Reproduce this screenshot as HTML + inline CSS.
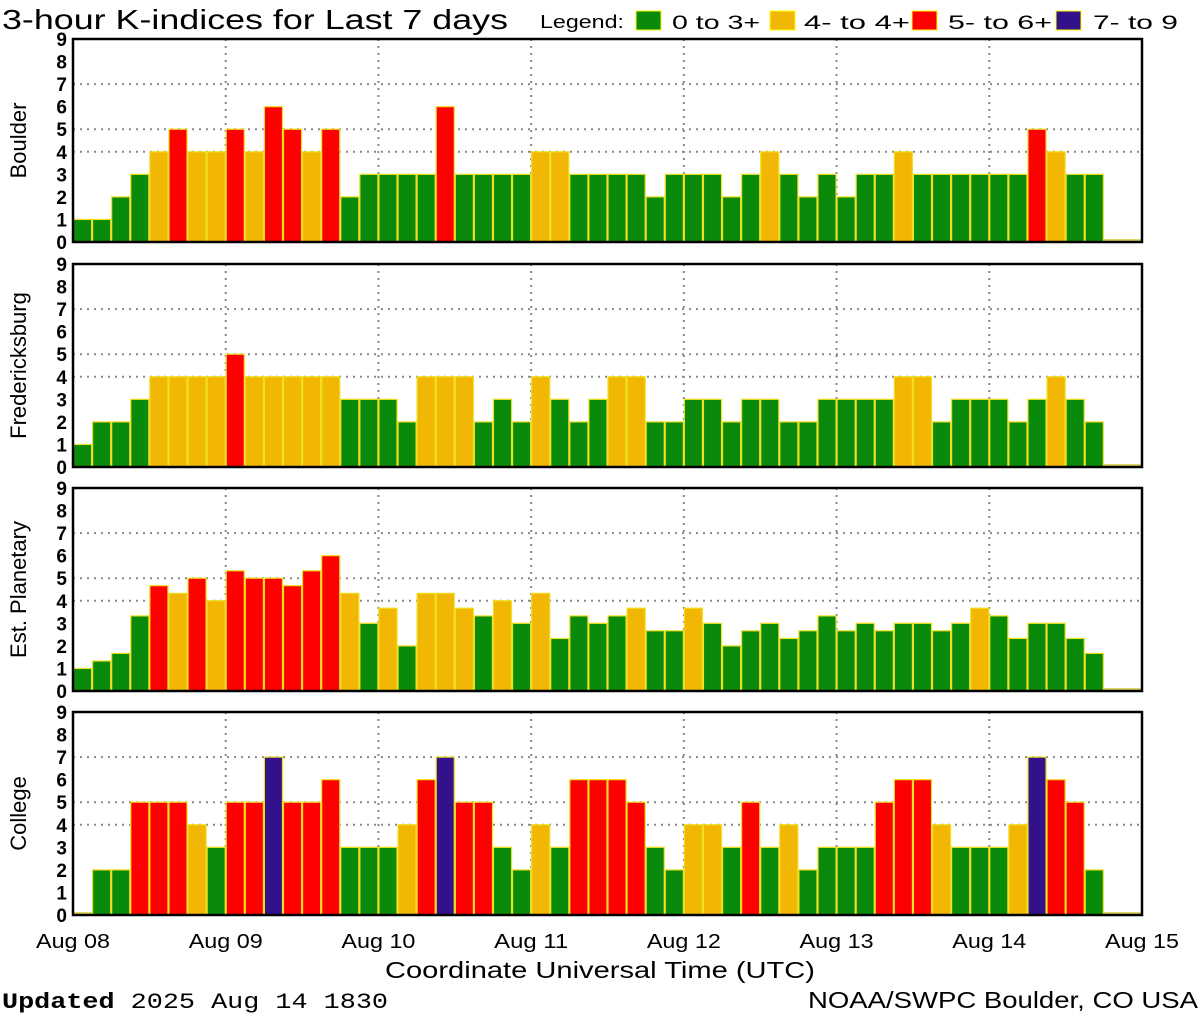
<!DOCTYPE html>
<html><head><meta charset="utf-8"><style>
html,body{margin:0;padding:0;background:#fff;}
svg{display:block;font-family:"Liberation Sans",sans-serif;}
</style></head><body>
<svg id="chart" width="1200" height="1020" viewBox="0 0 1200 1020" xmlns="http://www.w3.org/2000/svg">
<text x="2" y="29" font-size="28" fill="#000" textLength="506" lengthAdjust="spacingAndGlyphs">3-hour K-indices for Last 7 days</text>
<g>
<text x="540" y="28" font-size="18" textLength="84" lengthAdjust="spacingAndGlyphs">Legend:</text>
<rect x="636" y="11" width="25" height="19" fill="#0a8a0a" stroke="#ff0"/>
<text x="672" y="29" font-size="19" textLength="88" lengthAdjust="spacingAndGlyphs">0 to 3+</text>
<rect x="770" y="11" width="25" height="19" fill="#f2b705" stroke="#ff0"/>
<text x="804" y="29" font-size="19" textLength="106" lengthAdjust="spacingAndGlyphs">4- to 4+</text>
<rect x="912" y="11" width="25" height="19" fill="#ff0000" stroke="#ff0"/>
<text x="948" y="29" font-size="19" textLength="104" lengthAdjust="spacingAndGlyphs">5- to 6+</text>
<rect x="1056" y="11" width="25" height="19" fill="#33118a" stroke="#ff0"/>
<text x="1093" y="29" font-size="19" textLength="85" lengthAdjust="spacingAndGlyphs">7- to 9</text>
</g>
<g id="panels"></g>
<g id="xaxis"></g>
<text x="385" y="978" font-size="23" textLength="430" lengthAdjust="spacingAndGlyphs">Coordinate Universal Time (UTC)</text>
<text x="2" y="1008" font-size="22" font-family="Liberation Mono, monospace" textLength="386" lengthAdjust="spacingAndGlyphs"><tspan font-weight="bold">Updated</tspan> 2025 Aug 14 1830</text>
<text x="808" y="1008" font-size="23" textLength="390" lengthAdjust="spacingAndGlyphs">NOAA/SWPC Boulder, CO USA</text>
</svg>
<script>
const stations = ["Boulder","Fredericksburg","Est. Planetary","College"];
const dayLabels = ["Aug 08","Aug 09","Aug 10","Aug 11","Aug 12","Aug 13","Aug 14","Aug 15"];
const yTicks = [0,1,2,3,4,5,6,7,8,9];
const gridLevels = [4,5,7];
const boulder = [1,1,2,3,4,5,4,4, 5,4,6,5,4,5,2,3, 3,3,3,6,3,3,3,3, 4,4,3,3,3,3,2,3, 3,3,2,3,4,3,2,3, 2,3,3,4,3,3,3,3, 3,3,5,4,3,3,null,null];
const fredericksburg = [1,2,2,3,4,4,4,4, 5,4,4,4,4,4,3,3, 3,2,4,4,4,2,3,2, 4,3,2,3,4,4,2,2, 3,3,2,3,3,2,2,3, 3,3,3,4,4,2,3,3, 3,2,3,4,3,2,null,null];
const planetary = [1,1.33,1.67,3.33,4.67,4.33,5,4, 5.33,5,5,4.67,5.33,6,4.33,3, 3.67,2,4.33,4.33,3.67,3.33,4,3, 4.33,2.33,3.33,3,3.33,3.67,2.67,2.67, 3.67,3,2,2.67,3,2.33,2.67,3.33, 2.67,3,2.67,3,3,2.67,3,3.67, 3.33,2.33,3,3,2.33,1.67,null,null];
const college = [0,2,2,5,5,5,4,3, 5,5,7,5,5,6,3,3, 3,4,6,7,5,5,3,2, 4,3,6,6,6,5,3,2, 4,4,3,5,3,4,2,3, 3,3,5,6,6,4,3,3, 3,4,7,6,5,2,null,null];
const series = [boulder,fredericksburg,planetary,college];

const NS="http://www.w3.org/2000/svg";
const X0=73, X1=1142, panelTops=[39,264,488,712], PH=203;
const nBars=56;
const xScale = i => X0 + i*(X1-X0)/nBars;
const yScale = (top,v) => top+PH - v*(PH/9);
function mk(tag,attrs,parent){const e=document.createElementNS(NS,tag);for(const k in attrs)e.setAttribute(k,attrs[k]);parent.appendChild(e);return e;}
function color(v){ if(v>=6.5) return "#33118a"; if(v>=4.5) return "#ff0000"; if(v>=3.5) return "#f2b705"; return "#0a8a0a"; }
const panels=document.getElementById("panels");
stations.forEach((name,p)=>{
  const top=panelTops[p], bot=top+PH;
  const g=mk("g",{},panels);
  
  
  gridLevels.forEach(l=>{
    const ln=mk("line",{x1:X0,x2:X1,y1:yScale(top,l),y2:yScale(top,l),stroke:"#888","stroke-width":2,"stroke-dasharray":"2 5"},g);
    
    
  });
  for(let d=1;d<7;d++){
    const x=X0+d*(X1-X0)/7;
    const ln=mk("line",{x1:x,x2:x,y1:top,y2:bot,stroke:"#888","stroke-width":2,"stroke-dasharray":"2 5"},g);
    
    
  }
  series[p].forEach((v,i)=>{
    const x=xScale(i), w=(X1-X0)/nBars;
    let r;
    if(v===null || v===0){
      r=mk("rect",{x:x,y:bot-3,width:w,height:3,fill:"#e0d860"},g);
    } else {
      const y=yScale(top,v);
      r=mk("rect",{x:x+0.5,y:y,width:w-1,height:bot-y,fill:color(v),stroke:"#f0e020","stroke-width":1.2},g);
    }
    
    
  });
  const fr=mk("rect",{x:X0,y:top,width:X1-X0,height:PH,fill:"none",stroke:"#000","stroke-width":2.5},g);
  
  
  yTicks.forEach(t=>{
    const tx=mk("text",{x:67,y:yScale(top,t)+7,"font-size":19,"font-weight":"bold","text-anchor":"end"},g);
    tx.textContent=t;
    
    
  });
  const lb=mk("text",{transform:`translate(26,${top+PH/2}) rotate(-90)`,"font-size":22,"text-anchor":"middle"},g);
  lb.textContent=name;
  
  
});
const xa=document.getElementById("xaxis");
dayLabels.forEach((d,i)=>{
  const t=mk("text",{x:X0+i*(X1-X0)/7-37,y:948,"font-size":20,textLength:74,lengthAdjust:"spacingAndGlyphs"},xa);
  t.textContent=d;
  
  
});
</script>
</body></html>
